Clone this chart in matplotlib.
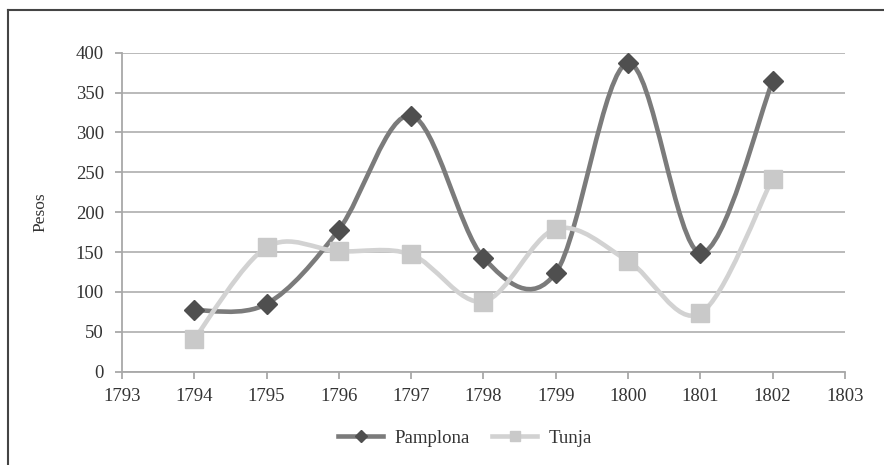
import matplotlib
matplotlib.use("Agg")
import matplotlib.pyplot as plt
from matplotlib.path import Path
from matplotlib.patches import PathPatch
from matplotlib.lines import Line2D
import numpy as np

years = [1794, 1795, 1796, 1797, 1798, 1799, 1800, 1801, 1802]
pamplona = [77, 85, 178, 321, 143, 124, 387, 149, 364]
tunja = [41, 156, 151, 147, 88, 179, 139, 73, 242]
series_names = ["Pamplona", "Tunja"]
x_ticks = list(range(1793, 1804))
y_ticks = list(range(0, 401, 50))

plt.rcParams['font.family'] = ['Liberation Serif', 'DejaVu Serif']

fig = plt.figure(figsize=(8.84, 4.65), dpi=100)
ax = fig.add_axes([0.138, 0.2006, 0.8177, 0.6861])


def smooth_path(xs, ys):
    xs = np.asarray(xs, float)
    ys = np.asarray(ys, float)
    n = len(xs)
    verts = [(xs[0], ys[0])]
    codes = [Path.MOVETO]
    for i in range(n - 1):
        p0 = i - 1 if i > 0 else 0
        p3 = i + 2 if i + 2 < n else n - 1
        c1 = (xs[i] + (xs[i + 1] - xs[p0]) / 6, ys[i] + (ys[i + 1] - ys[p0]) / 6)
        c2 = (xs[i + 1] - (xs[p3] - xs[i]) / 6, ys[i + 1] - (ys[p3] - ys[i]) / 6)
        verts += [c1, c2, (xs[i + 1], ys[i + 1])]
        codes += [Path.CURVE4] * 3
    return Path(verts, codes)


styles = [
    dict(data=pamplona, line="#7b7b7b", mk="#4f4f4f", marker="D", ms=10.5),
    dict(data=tunja, line="#d2d2d2", mk="#c9c9c9", marker="s", ms=12.5),
]

handles = []
for name, st in zip(series_names, styles):
    patch = PathPatch(smooth_path(years, st["data"]), facecolor="none",
                      edgecolor=st["line"], lw=3.3, zorder=3, capstyle="round")
    ax.add_patch(patch)
    ax.plot(years, st["data"], linestyle="none", marker=st["marker"],
            ms=st["ms"], mfc=st["mk"], mec=st["mk"], zorder=4)
    handles.append(Line2D([], [], color=st["line"], lw=3.3, marker=st["marker"],
                          ms=st["ms"] * 0.6, mfc=st["mk"], mec=st["mk"], label=name))

ax.set_xlim(1793, 1803)
ax.set_ylim(0, 400)
ax.set_xticks(x_ticks)
ax.set_yticks(y_ticks)
ax.set_xticklabels([str(v) for v in x_ticks])
ax.set_yticklabels([str(v) for v in y_ticks])
ax.yaxis.grid(True, color="#b4b4b4", lw=1.3)
ax.set_axisbelow(True)
for s in ["top", "right"]:
    ax.spines[s].set_visible(False)
for s in ["left", "bottom"]:
    ax.spines[s].set_color("#a8a8a8")
    ax.spines[s].set_linewidth(1.3)
ax.tick_params(axis="both", direction="out", length=5, width=1.3, color="#a8a8a8",
               labelsize=13.5, labelcolor="#333333")
ax.tick_params(axis="y", pad=8)
ax.tick_params(axis="x", pad=7)
ax.set_ylabel("Pesos", fontsize=12.5, color="#333333", labelpad=20)

fig.legend(handles=handles, loc="center", bbox_to_anchor=(0.526, 0.058), ncol=2,
           frameon=False, fontsize=13.5, handlelength=2.4, handletextpad=0.6,
           columnspacing=1.2, labelcolor="#333333")

fig.add_artist(Line2D([0.0094, 0.0094], [0.0, 0.978], color="#444444", lw=1.5,
                      transform=fig.transFigure))
fig.add_artist(Line2D([0.0094, 1.0], [0.978, 0.978], color="#444444", lw=1.5,
                      transform=fig.transFigure))

fig.savefig("out.png", dpi=100)
